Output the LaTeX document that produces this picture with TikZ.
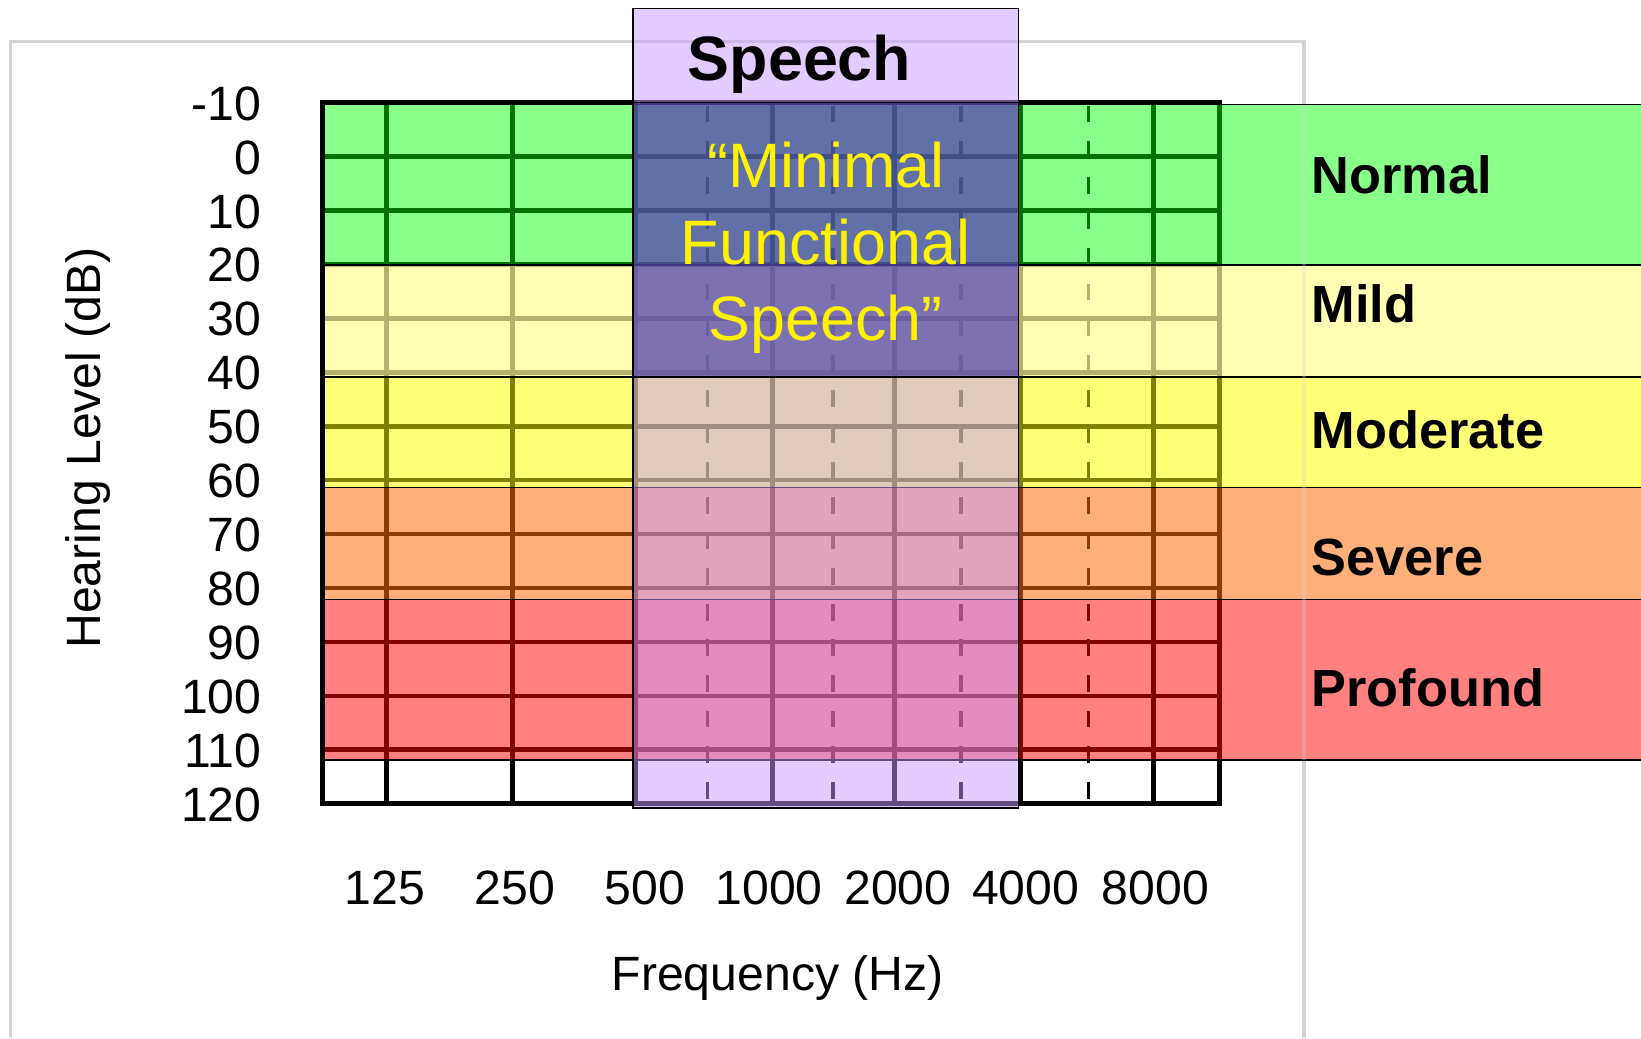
\documentclass[tikz,border=0pt]{standalone}
\usepackage{fontspec}
\setmainfont{Liberation Sans}
\definecolor{fillnormal}{RGB}{136,255,136}
\definecolor{linenormal}{RGB}{0,112,0}
\definecolor{fillmild}{RGB}{255,255,180}
\definecolor{linemild}{RGB}{181,176,110}
\definecolor{fillmoderate}{RGB}{255,255,119}
\definecolor{linemoderate}{RGB}{128,128,0}
\definecolor{fillsevere}{RGB}{255,176,122}
\definecolor{linesevere}{RGB}{140,58,8}
\definecolor{fillprofound}{RGB}{255,128,128}
\definecolor{lineprofound}{RGB}{128,0,0}
\definecolor{chartframe}{RGB}{212,212,212}
\definecolor{speechfill}{RGB}{199,153,255}
\definecolor{minimalfill}{RGB}{36,34,144}
\tikzstyle{Axis}=[font=\fontsize{46}{50}\selectfont, inner sep=0pt]
\tikzstyle{Category}=[font=\fontsize{50}{55}\selectfont\bfseries, anchor=west, inner sep=0pt]
\tikzstyle{SpeechTitle}=[font=\fontsize{60}{66}\selectfont\bfseries, inner sep=0pt]
\tikzstyle{Minimal}=[font=\fontsize{60}{73}\selectfont, text=yellow, align=center, inner sep=0pt]
\tikzstyle{GridLine}=[line width=4.5pt]
\tikzstyle{BandEdge}=[line width=1.5pt, draw=black]
\tikzstyle{Frame}=[line width=3pt, draw=chartframe]
\pgfdeclarelayer{chartlayer}
\pgfdeclarelayer{overlaylayer}
\pgfsetlayers{chartlayer, overlaylayer, main}
\newcommand{\chartgrid}[1]{%
	\foreach \k in {1,...,12}
		\draw [GridLine, draw=#1] (308,{98+51.54*\k}) -- (1165,{98+51.54*\k});
	\foreach \x in {369,490,607,738,855,975,1102,1165}
		\draw [GridLine, line width=5pt, draw=#1] (\x,98) -- (\x,768);
	\foreach \x in {676,796,918,1040}
		\draw [GridLine, line width=3.5pt, draw=#1, dash pattern=on 16pt off 18pt] (\x,101) -- (\x,768);
}
\begin{document}
\begin{tikzpicture}[x=1pt, y=-1pt]
	\useasboundingbox (0,0) rectangle (1568,992);
	\begin{pgfonlayer}{chartlayer}
		\draw [Frame] (10,992) -- (10,40) -- (1246,40) -- (1246,992);
		% hearing loss bands
		\foreach \ytop/\ybot/\band in {100/253/normal, 253/360/mild, 360/466/moderate, 466/573/severe, 573/726/profound}{
			\fill [fill=fill\band] (310,\ytop) rectangle (1570,\ybot);
			\begin{scope}
				\clip (310,\ytop) rectangle (1570,\ybot);
				\chartgrid{line\band}
			\end{scope}
			\draw [BandEdge] (310,\ytop) rectangle (1570,\ybot);
		}
		\begin{scope}
			\clip (310,726) rectangle (1168,770);
			\chartgrid{black}
		\end{scope}
		\draw [Frame, opacity=0.3] (1246,100) -- (1246,726);
		% chart border
		\draw [line width=4.5pt] (308,98) -- (1168,98);
		\draw [line width=4.5pt] (308,96) -- (308,770);
		\draw [line width=4.5pt] (306,768) -- (1168,768);
	\end{pgfonlayer}
	\begin{pgfonlayer}{overlaylayer}
		\draw [fill=speechfill, fill opacity=0.5, line width=1.5pt] (605,8) rectangle (973,772);
		\draw [fill=minimalfill, fill opacity=0.53, line width=1.5pt] (605,98) rectangle (973,360);
	\end{pgfonlayer}
	\node [style=SpeechTitle] (speech) at (764,61) {Speech};
	\node [style=Minimal] (minimal) at (789,237) {“Minimal\\Functional\\Speech”};
	\node [style=Category] (normal) at (1253,167) {Normal};
	\node [style=Category] (mild) at (1253,290) {Mild};
	\node [style=Category] (moderate) at (1253,411) {Moderate};
	\node [style=Category] (severe) at (1253,533) {Severe};
	\node [style=Category] (profound) at (1253,657) {Profound};
	% axis labels
	\foreach \k/\lab in {0/-10, 1/0, 2/10, 3/20, 4/30, 5/40, 6/50, 7/60, 8/70, 9/80, 10/90, 11/100, 12/110, 13/120}
		\node [style=Axis, anchor=east] (db\k) at (250,{99+51.54*\k}) {\lab};
	\foreach \x/\lab in {368/125, 492/250, 616/500, 735/1000, 858/2000, 980/4000, 1104/8000}
		\node [style=Axis] (hz\lab) at (\x,848) {\lab};
	\node [style=Axis, rotate=90] (levelaxis) at (84,428) {Hearing Level (dB)};
	\node [style=Axis] (freqaxis) at (743,935) {Frequency (Hz)};
\end{tikzpicture}
\end{document}
